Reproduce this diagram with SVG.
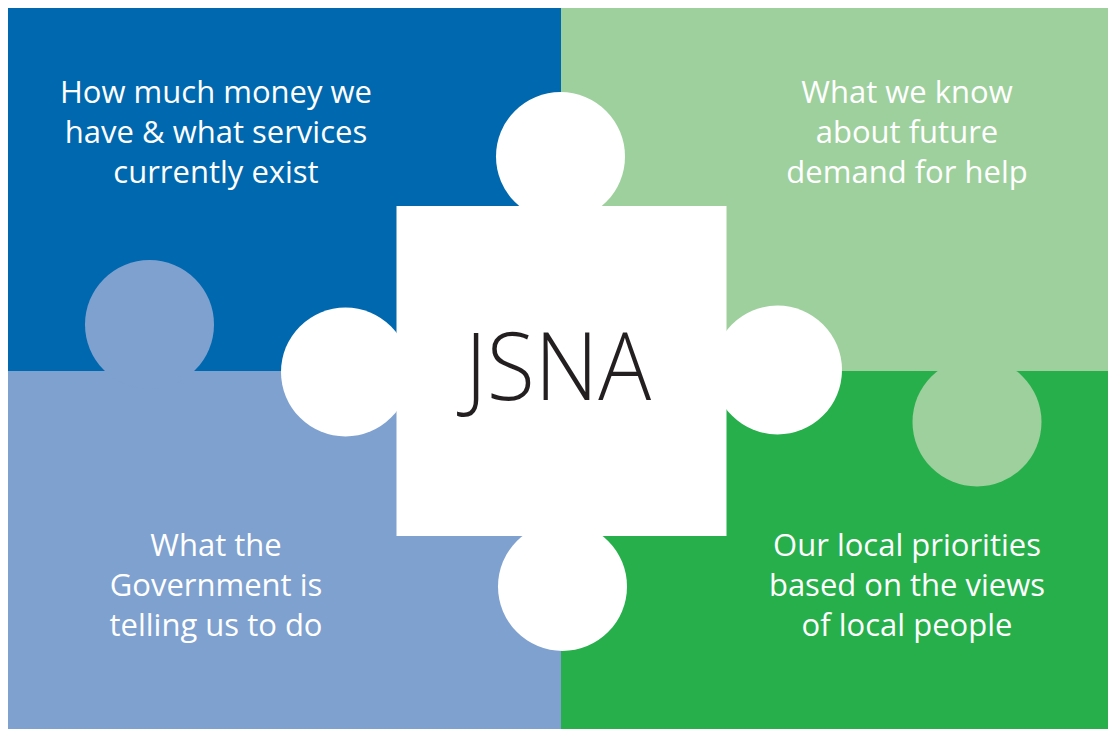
<svg xmlns="http://www.w3.org/2000/svg" width="1108" height="729" viewBox="0 0 1108 729">
  <style>
    .label { font-family: "Open Sans", "Liberation Sans", sans-serif; font-size: 31px; fill: #ffffff; text-anchor: middle; }
    .title { font-family: "Open Sans", "Liberation Sans", sans-serif; font-size: 94px; font-weight: 300; fill: #231f20; text-anchor: middle; }
    .dark-blue { fill: #0068ae; }
    .light-blue { fill: #7fa1cf; }
    .light-green { fill: #9ed09d; }
    .green { fill: #26af4b; }
    .white { fill: #ffffff; }
  </style>
  <rect width="1108" height="729" fill="#ffffff"/>

  <!-- Top-left piece: money and services -->
  <g id="piece-money">
    <rect class="dark-blue" x="8" y="8" width="553" height="363"/>
  </g>
  <!-- Top-right piece: future demand -->
  <g id="piece-demand">
    <rect class="light-green" x="561" y="8" width="547" height="363"/>
  </g>
  <!-- Bottom-left piece: Government direction, with its tab up into the blue piece -->
  <g id="piece-government">
    <rect class="light-blue" x="8" y="371" width="553" height="358"/>
    <circle class="light-blue" cx="149.5" cy="324.5" r="64.5"/>
  </g>
  <!-- Bottom-right piece: local priorities, overlapped by the light-green tab -->
  <g id="piece-priorities">
    <rect class="green" x="561" y="371" width="547" height="358"/>
  </g>
  <g id="tab-demand">
    <circle class="light-green" cx="977" cy="422" r="64.5"/>
  </g>

  <!-- Central JSNA piece with four tabs -->
  <g id="piece-jsna">
    <rect class="white" x="396.5" y="206" width="330" height="330"/>
    <circle class="white" cx="560.5" cy="156.5" r="64.5"/>
    <circle class="white" cx="345.5" cy="372" r="64.5"/>
    <circle class="white" cx="777.5" cy="370" r="64.5"/>
    <circle class="white" cx="562.5" cy="586.5" r="64.5"/>
    <text class="title" x="558" y="400" textLength="186" lengthAdjust="spacingAndGlyphs">JSNA</text>
  </g>

  <g id="labels">
    <text class="label" x="216" y="103">How much money we</text>
    <text class="label" x="216" y="143">have &amp; what services</text>
    <text class="label" x="216" y="183">currently exist</text>

    <text class="label" x="907" y="103">What we know</text>
    <text class="label" x="907" y="143">about future</text>
    <text class="label" x="907" y="183">demand for help</text>

    <text class="label" x="216" y="556">What the</text>
    <text class="label" x="216" y="596">Government is</text>
    <text class="label" x="216" y="636">telling us to do</text>

    <text class="label" x="907" y="556">Our local priorities</text>
    <text class="label" x="907" y="596">based on the views</text>
    <text class="label" x="907" y="636">of local people</text>
  </g>

  <!-- No connectors: the pieces interlock directly -->
  <g id="connectors"/>
</svg>
